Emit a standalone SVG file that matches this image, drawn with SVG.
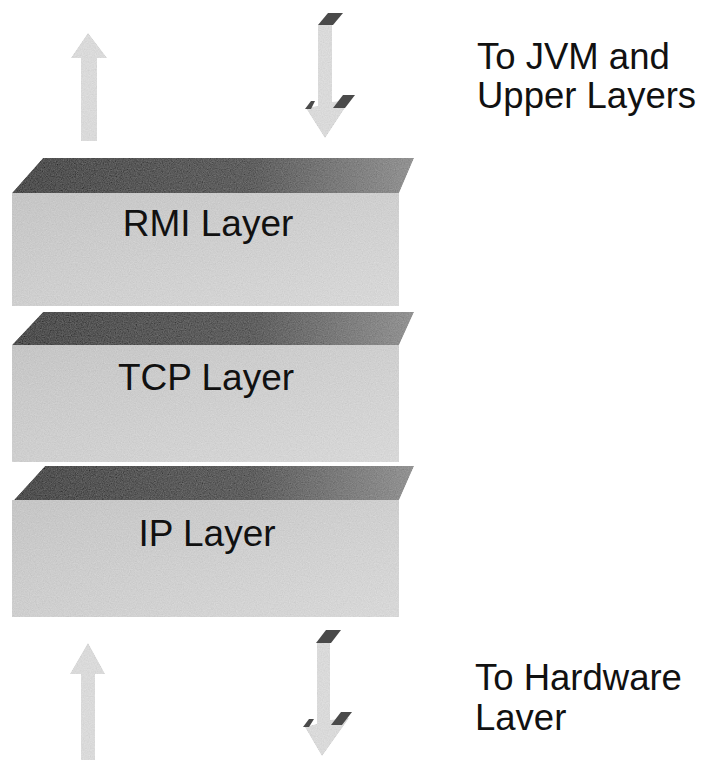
<svg xmlns="http://www.w3.org/2000/svg" width="702" height="761" viewBox="0 0 702 761">
<defs>
<filter id="grain" x="0" y="0" width="100%" height="100%">
<feTurbulence type="fractalNoise" baseFrequency="0.85" numOctaves="2" seed="4" result="n"/>
<feColorMatrix in="n" type="matrix" values="0.33 0.33 0.33 0 0  0.33 0.33 0.33 0 0  0.33 0.33 0.33 0 0  0 0 0 0 1" result="g"/>
<feComposite in="SourceGraphic" in2="g" operator="arithmetic" k1="0" k2="1" k3="0.25" k4="-0.125" result="m"/>
<feComposite in="m" in2="SourceAlpha" operator="in"/>
</filter>
<linearGradient id="topG" x1="0" y1="0" x2="1" y2="0">
<stop offset="0" stop-color="#505050"/>
<stop offset="0.6" stop-color="#606060"/>
<stop offset="1" stop-color="#939393"/>
</linearGradient>
<linearGradient id="frontG" x1="0" y1="0" x2="1" y2="1">
<stop offset="0" stop-color="#c6c6c6"/>
<stop offset="1" stop-color="#d8d8d8"/>
</linearGradient>
</defs>
<style>
.top{fill:url(#topG);filter:url(#grain)}
.front{fill:url(#frontG);filter:url(#grain)}
.lbl{font-family:"Liberation Sans",Arial,sans-serif;font-size:37px;fill:#111;text-anchor:middle}
.side{font-family:"Liberation Sans",Arial,sans-serif;font-size:36.5px;fill:#111}
.arr{fill:#dadada;filter:url(#grain)}
.cap{fill:#4a4a4a}
</style>
<rect width="702" height="761" fill="#fff"/>

<g id="rmi-layer">
<polygon class="top" points="12,193 43,158 414,158 399,193"/>
<rect class="front" x="12" y="193" width="387" height="113"/>
<text class="lbl" x="208" y="236">RMI Layer</text>
</g>
<g id="tcp-layer">
<polygon class="top" points="12,345 43,312 414,312 399,345"/>
<rect class="front" x="12" y="345" width="387" height="117"/>
<text class="lbl" x="206" y="390">TCP Layer</text>
</g>
<g id="ip-layer">
<polygon class="top" points="14,500 45,466 414,466 399,500"/>
<rect class="front" x="12" y="500" width="387" height="117"/>
<text class="lbl" x="207" y="546">IP Layer</text>
</g>

<g id="connectors">
<g id="up-top">
<polygon class="arr" points="88,33 107,58 97,58 97,141 81,141 81,58 71,58"/>
</g>
<g id="down-top">
<polygon class="arr" points="318,25 332,25 332,102 350,100 325,138 306,108 318,106"/>
<polygon class="cap" points="318,25 328,13 343,13 333,25"/>
<polygon class="cap" points="305,109 311,101 315,101 311,109"/>
<polygon class="cap" points="333,108 343,95 355,95 345,108"/>
</g>
<g id="up-bottom">
<polygon class="arr" points="88,643 105,674 95,674 95,760 81,760 81,674 70,674"/>
</g>
<g id="down-bottom">
<polygon class="arr" points="317,643 330,643 330,720 349,718 322,756 305,727 317,724"/>
<polygon class="cap" points="316,643 326,630 341,630 331,643"/>
<polygon class="cap" points="303,727 309,719 314,719 309,727"/>
<polygon class="cap" points="331,725 341,712 352,712 342,725"/>
</g>
</g>

<g id="labels">
<text class="side" x="477" y="69">To JVM and</text>
<text class="side" x="477" y="108">Upper Layers</text>
<text class="side" x="475" y="690">To Hardware</text>
<text class="side" x="475" y="730">Laver</text>
</g>
</svg>
